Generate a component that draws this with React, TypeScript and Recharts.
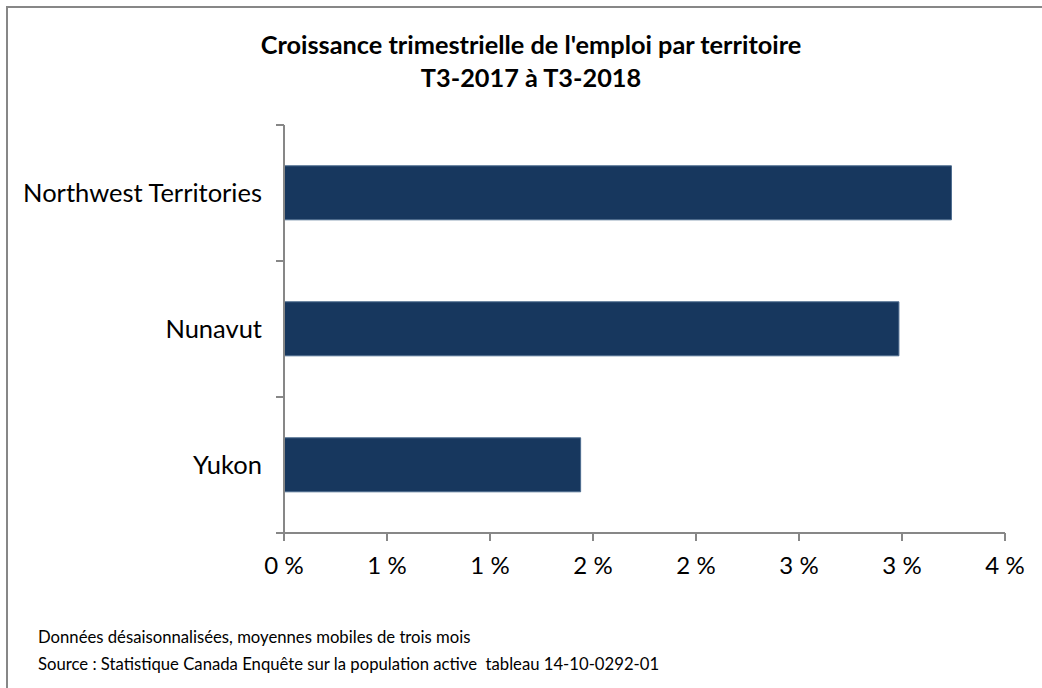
import React from 'react';
import { BarChart, Bar, XAxis, YAxis } from 'recharts';

// Territoires, du haut vers le bas
const territories = ['Northwest Territories', 'Nunavut', 'Yukon'];
// Croissance de l'emploi T3-2017 à T3-2018 (%)
const growth = [3.24, 2.985, 1.44];
const xTicks = [0, 0.5, 1, 1.5, 2, 2.5, 3, 3.5];

const titleLines = ["Croissance trimestrielle de l'emploi par territoire", 'T3-2017 à T3-2018'];
const notes = [
  'Données désaisonnalisées, moyennes mobiles de trois mois',
  'Source : Statistique Canada Enquête sur la population active  tableau 14-10-0292-01',
];

const data = territories.map((name, i) => ({ name, value: growth[i] }));

const FONT = 'Lato, "Open Sans", sans-serif';
const AXIS = '#878787';
const TICK_SIZE = 8;
const TICK_MARGIN = 14;

const CategoryTick = (props: any) => {
  const { x, y, payload } = props;
  const axisX = x + TICK_SIZE + TICK_MARGIN;
  const half = payload?.offset ?? 0;
  return (
    <g>
      <line x1={axisX - TICK_SIZE} x2={axisX} y1={y - half} y2={y - half} stroke={AXIS} strokeWidth={2} />
      <line x1={axisX - TICK_SIZE} x2={axisX} y1={y + half} y2={y + half} stroke={AXIS} strokeWidth={2} />
      <text x={x} y={y} dy="0.35em" textAnchor="end" fontSize={25.5} fill="#000" fontFamily={FONT}>
        {payload.value}
      </text>
    </g>
  );
};

export default function App() {
  return (
    <div style={{ position: 'absolute', left: 0, top: 0, width: 1042, height: 688, background: '#fff', fontFamily: FONT }}>
      <div
        style={{
          position: 'absolute',
          left: 6,
          top: 6,
          right: 0,
          bottom: 0,
          borderLeft: `2px solid ${AXIS}`,
          borderTop: `2px solid ${AXIS}`,
        }}
      />
      <div
        style={{
          position: 'absolute',
          left: 6,
          width: 1050,
          top: 28,
          textAlign: 'center',
          fontWeight: 700,
          fontSize: 25.3,
          lineHeight: '33px',
          color: '#000',
        }}
      >
        {titleLines.map((t) => (
          <div key={t}>{t}</div>
        ))}
      </div>
      <BarChart
        width={1042}
        height={688}
        data={data}
        layout="vertical"
        margin={{ top: 125, right: 37, left: 0, bottom: 115 }}
        barCategoryGap="30%"
        style={{ position: 'absolute', left: 0, top: 0 }}
      >
        <XAxis
          type="number"
          domain={[0, 3.5]}
          ticks={xTicks}
          height={40}
          interval={0}
          tickFormatter={(v: number) => `${Math.round(v)} %`}
          tick={{ fontSize: 24, fill: '#000', fontFamily: FONT }}
          tickSize={TICK_SIZE}
          tickMargin={16}
          stroke={AXIS}
          strokeWidth={2}
          allowDataOverflow
        />
        <YAxis
          type="category"
          dataKey="name"
          width={284}
          tick={<CategoryTick />}
          tickLine={false}
          tickSize={TICK_SIZE}
          tickMargin={TICK_MARGIN}
          interval={0}
          stroke={AXIS}
          strokeWidth={2}
        />
        <Bar dataKey="value" fill="#17375E" stroke="#4C6B8E" strokeWidth={1} isAnimationActive={false} />
      </BarChart>
      <div
        style={{
          position: 'absolute',
          left: 38,
          top: 624,
          fontSize: 16.7,
          lineHeight: '27px',
          color: '#000',
        }}
      >
        {notes.map((n) => (
          <div key={n} style={{ whiteSpace: 'pre' }}>{n}</div>
        ))}
      </div>
    </div>
  );
}
